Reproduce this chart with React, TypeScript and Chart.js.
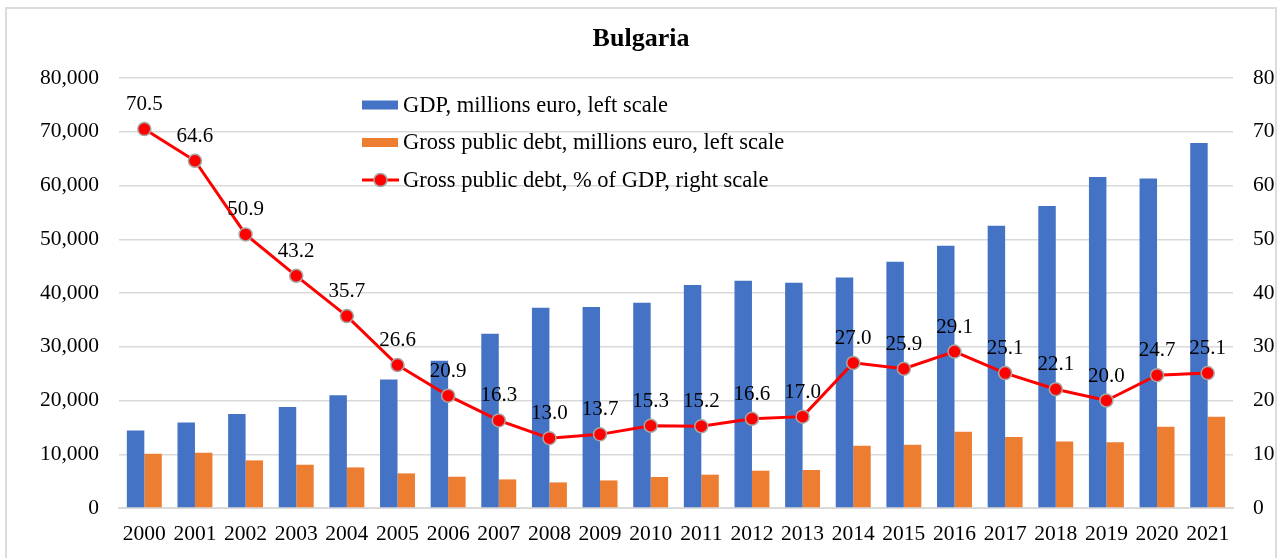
import React, { useEffect, useRef } from "react";
import { Chart, registerables } from "chart.js";

Chart.register(...registerables);

const years = ["2000", "2001", "2002", "2003", "2004", "2005", "2006", "2007", "2008", "2009", "2010", "2011", "2012", "2013", "2014", "2015", "2016", "2017", "2018", "2019", "2020", "2021"];
const gdpMillions = [14400, 15900, 17500, 18800, 21000, 23900, 27400, 32400, 37250, 37400, 38200, 41500, 42300, 41900, 42900, 45800, 48800, 52500, 56200, 61600, 61300, 67900];
const debtMillions = [10100, 10300, 8860, 8050, 7550, 6440, 5820, 5320, 4760, 5130, 5770, 6200, 6940, 7070, 11590, 11780, 14200, 13200, 12390, 12210, 15130, 16990];
const debtPct = [70.5, 64.6, 50.9, 43.2, 35.7, 26.6, 20.9, 16.3, 13.0, 13.7, 15.3, 15.2, 16.6, 17.0, 27.0, 25.9, 29.1, 25.1, 22.1, 20.0, 24.7, 25.1];
const leftTicks = [0, 10000, 20000, 30000, 40000, 50000, 60000, 70000, 80000];
const rightTicks = [0, 10, 20, 30, 40, 50, 60, 70, 80];
const seriesNames = [
  "GDP, millions euro, left scale",
  "Gross public debt, millions euro, left scale",
  "Gross public debt, % of GDP, right scale",
];
const titleText = "Bulgaria";

const SERIF = "'Liberation Serif', 'Times New Roman', serif";
const BLUE = "#4472C4";
const ORANGE = "#ED7D31";
const RED = "#FF0000";
const GRID = "#D9D9D9";
const MARKER_BORDER = "#A6A6A6";

const overlayPlugin = {
  id: "overlay",
  afterDatasetsDraw(chart: any) {
    const ctx = chart.ctx;
    const meta = chart.getDatasetMeta(2);
    ctx.save();
    ctx.font = `21px ${SERIF}`;
    ctx.fillStyle = "#000";
    ctx.textAlign = "center";
    ctx.textBaseline = "alphabetic";
    meta.data.forEach((pt: any, i: number) => {
      ctx.fillText(debtPct[i].toFixed(1), pt.x, pt.y - 19);
    });
    ctx.restore();
  },
  afterDraw(chart: any) {
    const ctx = chart.ctx;
    const area = chart.chartArea;
    ctx.save();
    ctx.font = `bold 26px ${SERIF}`;
    ctx.fillStyle = "#000";
    ctx.textAlign = "center";
    ctx.textBaseline = "alphabetic";
    ctx.fillText(titleText, chart.width / 2, 46);

    const lx = area.left + 243;
    const rowY = [area.top + 27, area.top + 64.5, area.top + 102];
    const colors = [BLUE, ORANGE, RED];
    ctx.font = `22.5px ${SERIF}`;
    ctx.textAlign = "left";
    ctx.textBaseline = "middle";
    seriesNames.forEach((name, i) => {
      const y = rowY[i];
      if (i < 2) {
        ctx.fillStyle = colors[i];
        ctx.fillRect(lx, y - 4.5, 36, 9);
      } else {
        ctx.strokeStyle = RED;
        ctx.lineWidth = 3;
        ctx.beginPath();
        ctx.moveTo(lx, y);
        ctx.lineTo(lx + 37, y);
        ctx.stroke();
        ctx.beginPath();
        ctx.arc(lx + 18.5, y, 6.5, 0, Math.PI * 2);
        ctx.fillStyle = RED;
        ctx.fill();
        ctx.lineWidth = 1.5;
        ctx.strokeStyle = MARKER_BORDER;
        ctx.stroke();
      }
      ctx.fillStyle = "#000";
      ctx.fillText(name, lx + 41, y + 1);
    });
    ctx.restore();
  },
};

export default function App() {
  const canvasRef = useRef<HTMLCanvasElement | null>(null);

  useEffect(() => {
    const canvas = canvasRef.current;
    if (!canvas) return;
    const chart = new Chart(canvas, {
      type: "bar",
      data: {
        labels: years,
        datasets: [
          {
            type: "bar",
            label: seriesNames[0],
            data: gdpMillions,
            backgroundColor: BLUE,
            yAxisID: "y",
            order: 1,
            barPercentage: 1,
            categoryPercentage: 0.69,
          },
          {
            type: "bar",
            label: seriesNames[1],
            data: debtMillions,
            backgroundColor: ORANGE,
            yAxisID: "y",
            order: 1,
            barPercentage: 1,
            categoryPercentage: 0.69,
          },
          {
            type: "line",
            label: seriesNames[2],
            data: debtPct,
            borderColor: RED,
            borderWidth: 3,
            backgroundColor: RED,
            pointBackgroundColor: RED,
            pointBorderColor: MARKER_BORDER,
            pointBorderWidth: 1.5,
            pointRadius: 6.5,
            tension: 0,
            yAxisID: "y1",
            order: 0,
          },
        ] as any,
      },
      options: {
        animation: false,
        responsive: false,
        maintainAspectRatio: false,
        layout: { padding: { top: 78, left: 0, right: 0, bottom: 0 } },
        plugins: {
          legend: { display: false },
          title: { display: false },
          tooltip: { enabled: false },
        },
        scales: {
          x: {
            grid: { display: false, drawTicks: false },
            border: { display: true, color: GRID, width: 2 },
            ticks: {
              font: { family: SERIF, size: 21.5 },
              color: "#000",
              maxRotation: 0,
              autoSkip: false,
              padding: 13,
            },
            afterFit: (scale: any) => {
              scale.height = 50;
            },
          },
          y: {
            position: "left",
            min: 0,
            max: 80000,
            afterBuildTicks: (scale: any) => {
              scale.ticks = leftTicks.map((v) => ({ value: v }));
            },
            grid: { color: GRID, lineWidth: 1.5, drawTicks: false },
            border: { display: false },
            ticks: {
              font: { family: SERIF, size: 21.5 },
              color: "#000",
              padding: 20,
              callback: (v: any) => Number(v).toLocaleString("en-US"),
            },
            afterFit: (scale: any) => {
              scale.width = 119;
            },
          },
          y1: {
            position: "right",
            min: 0,
            max: 80,
            afterBuildTicks: (scale: any) => {
              scale.ticks = rightTicks.map((v) => ({ value: v }));
            },
            grid: { display: false, drawTicks: false },
            border: { display: false },
            ticks: {
              font: { family: SERIF, size: 21.5 },
              color: "#000",
              padding: 20,
            },
            afterFit: (scale: any) => {
              scale.width = 49;
            },
          },
        },
      } as any,
      plugins: [overlayPlugin],
    });
    return () => chart.destroy();
  }, []);

  return (
    <div style={{ position: "absolute", left: 0, top: 0, width: 1282, height: 558, background: "#fff", overflow: "hidden" }}>
      <div
        style={{
          position: "absolute",
          left: 5,
          top: 7,
          width: 1272,
          height: 560,
          border: "2px solid #DCDCDC",
          boxSizing: "border-box",
        }}
      />
      <canvas ref={canvasRef} width={1282} height={558} style={{ position: "absolute", left: 0, top: 0, width: 1282, height: 558 }} />
    </div>
  );
}
